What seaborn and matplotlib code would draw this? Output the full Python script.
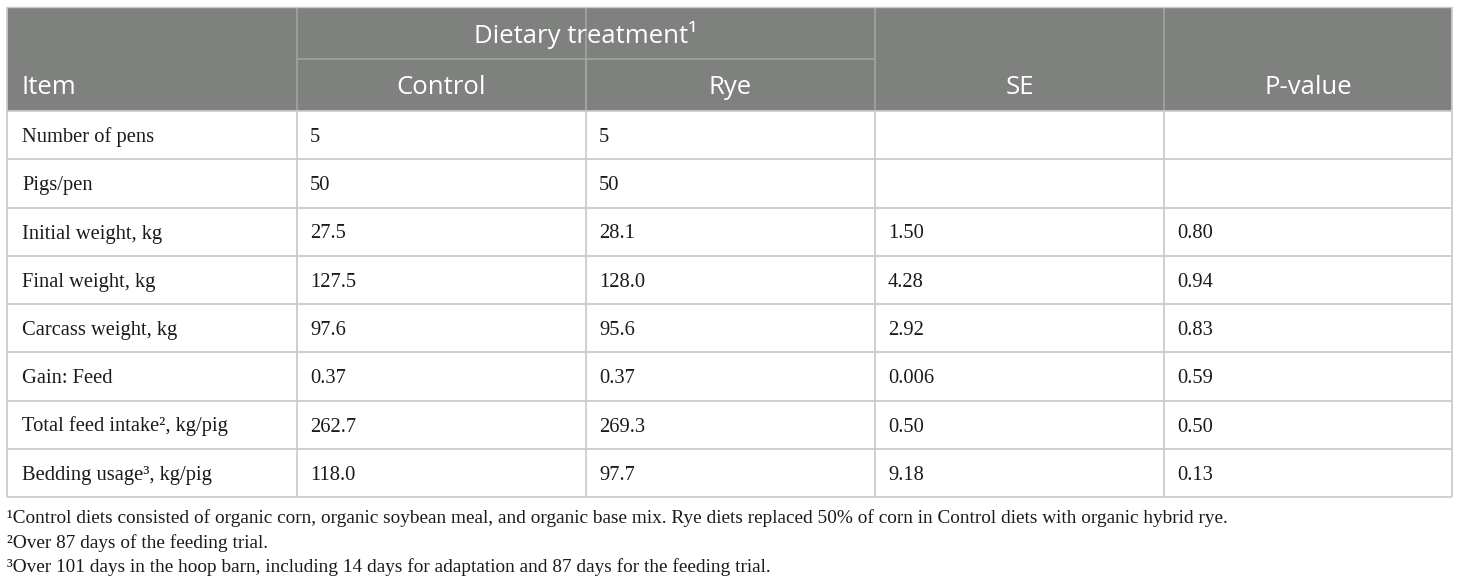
"""Pig performance table: Control vs Rye diets, drawn with seaborn/matplotlib."""
import matplotlib
matplotlib.use("Agg")
import matplotlib.pyplot as plt
from matplotlib.patches import Rectangle
import seaborn as sns

# table content
items = [
    "Number of pens",
    "Pigs/pen",
    "Initial weight, kg",
    "Final weight, kg",
    "Carcass weight, kg",
    "Gain: Feed",
    "Total feed intake\u00b2, kg/pig",
    "Bedding usage\u00b3, kg/pig",
]
control = ["5", "50", "27.5", "127.5", "97.6", "0.37", "262.7", "118.0"]
rye = ["5", "50", "28.1", "128.0", "95.6", "0.37", "269.3", "97.7"]
se = ["", "", "1.50", "4.28", "2.92", "0.006", "0.50", "9.18"]
p_value = ["", "", "0.80", "0.94", "0.83", "0.59", "0.50", "0.13"]

group_header = "Dietary treatment\u00b9"
col_headers = ["Item", "Control", "Rye", "SE", "P-value"]

footnotes = [
    "\u00b9Control diets consisted of organic corn, organic soybean meal, and organic base mix. "
    "Rye diets replaced 50% of corn in Control diets with organic hybrid rye.",
    "\u00b2Over 87 days of the feeding trial.",
    "\u00b3Over 101 days in the hoop barn, including 14 days for adaptation and 87 days for the feeding trial.",
]

# layout (pixels)
W, H = 1460, 584
col_edges = [7, 297, 586, 875, 1164, 1452]
top, sub_line, head_bottom = 7, 59, 111
row_h = 48.25
header_grey = "#7f817f"
header_line = "#a3a5a3"
body_line = "#cbcbcb"

sns.set_theme(style="white")
plt.rcParams["font.family"] = ["Liberation Serif", "DejaVu Serif"]

fig = plt.figure(figsize=(W / 100, H / 100), dpi=100)
ax = fig.add_axes([0, 0, 1, 1])
ax.set_xlim(0, W)
ax.set_ylim(H, 0)
ax.axis("off")

n_rows = len(items)
bottom = head_bottom + n_rows * row_h

# header block
ax.add_patch(Rectangle((col_edges[0], top), col_edges[-1] - col_edges[0],
                       head_bottom - top, facecolor=header_grey, edgecolor="none"))
ax.hlines(sub_line, col_edges[1], col_edges[3], color=header_line, lw=1.2)
ax.vlines(col_edges[1:-1], top, head_bottom, color=header_line, lw=1.2)
ax.vlines(col_edges[2], sub_line, head_bottom, color=header_line, lw=1.2)

sans = ["Open Sans", "DejaVu Sans"]
hsize = 18.5
ax.text((col_edges[1] + col_edges[3]) / 2, 43, group_header, color="white",
        fontsize=hsize, family=sans, ha="center", va="baseline")
ax.text(col_edges[0] + 15, 94, col_headers[0], color="white",
        fontsize=hsize, family=sans, ha="left", va="baseline")
for j, label in enumerate(col_headers[1:], start=1):
    ax.text((col_edges[j] + col_edges[j + 1]) / 2, 94, label, color="white",
            fontsize=hsize, family=sans, ha="center", va="baseline")

# body grid
for i in range(n_rows + 1):
    y = head_bottom + i * row_h
    ax.hlines(y, col_edges[0], col_edges[-1], color=body_line, lw=1.3)
ax.vlines(col_edges, head_bottom, bottom, color=body_line, lw=1.3)
ax.vlines([col_edges[0], col_edges[-1]], top, head_bottom, color=body_line, lw=1.3)
ax.hlines(top, col_edges[0], col_edges[-1], color=body_line, lw=1.0)

columns = [items, control, rye, se, p_value]
for i in range(n_rows):
    y = head_bottom + i * row_h + 31
    for j, col in enumerate(columns):
        x = col_edges[j] + (15 if j == 0 else 13)
        ax.text(x, y, col[i], fontsize=14.8, color="#1a1a1a",
                ha="left", va="baseline")

# footnotes
for k, note in enumerate(footnotes):
    ax.text(col_edges[0], 523 + k * 24.5, note, fontsize=13.85, color="#1a1a1a",
            ha="left", va="baseline")

fig.savefig("out.png", dpi=100)
